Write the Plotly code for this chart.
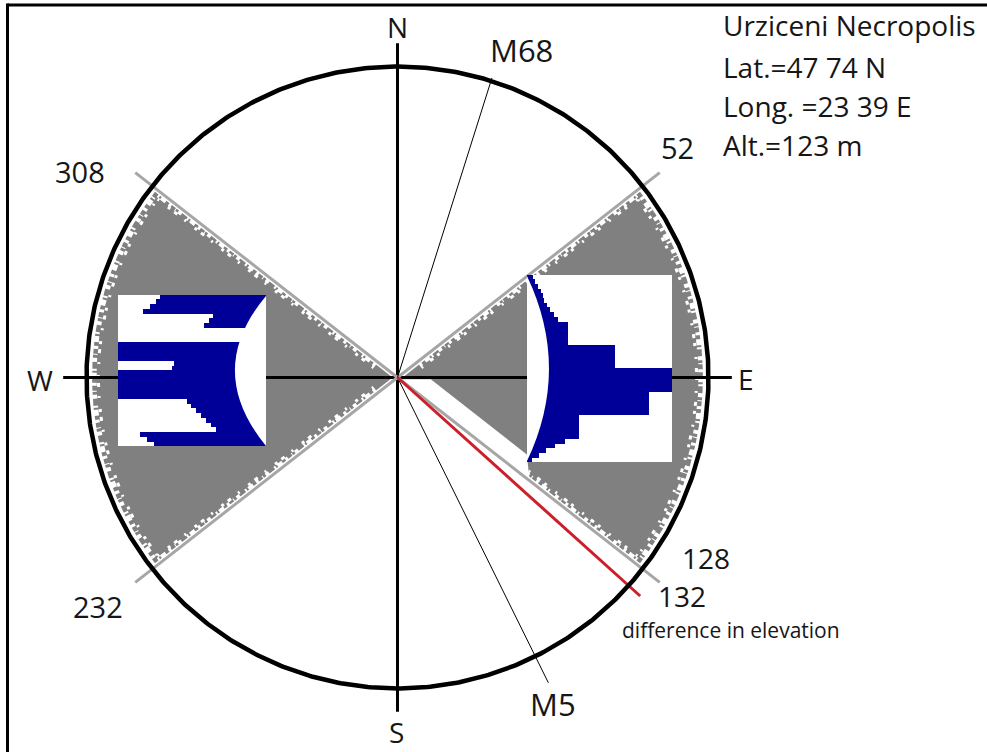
import numpy as np
import plotly.graph_objects as go

# ---------------------------------------------------------------- data
east_sector = [52, 128]        # azimuth limits of the eastern sector (deg)
west_sector = [232, 308]       # azimuth limits of the western sector (deg)
elevation_az = 132             # azimuth corrected for difference in elevation
tomb_names = ["M68", "M5"]
tomb_az = [17.5, 153.7]        # azimuths of the two reference graves
cardinal_names = ["N", "E", "S", "W"]

# orientation histograms, bar length in % of the panel width, top row first
east_hist = [4.1, 5.5, 7.6, 9.7, 11.0, 11.7, 13.8, 15.9, 18.6, 21.4,
             28.3, 28.3, 28.3, 28.3, 28.3, 60.7, 60.7, 60.7, 60.7, 60.7,
             100, 100, 100, 100, 100, 84.1, 84.1, 84.1, 84.1, 84.1,
             35.9, 35.9, 35.9, 35.9, 35.9, 26.2, 19.3, 13.1, 8.3, 3.4]
west_hist = [71.6, 74.3, 78.4, 83.1, 35.8, 38.5, 41.9, 0, 0, 0,
             100, 100, 100, 100, 62.2, 63.5, 100, 100, 100, 100,
             100, 100, 53.4, 50.7, 47.3, 43.9, 40.5, 37.2, 33.8, 85.1,
             80.4, 75.7]

site_info = ["Urziceni Necropolis", "Lat.=47 74 N", "Long. =23 39 E", "Alt.=123 m"]
elev_note = "difference in elevation"

# ---------------------------------------------------------------- page geometry
W, H = 987, 752
CX, CY, R = 397.5, 377.5, 311.0       # compass centre / radius (px)
EAST_BOX = (527, 275, 672, 462)       # histogram panels (x0, y0, x1, y1) px
WEST_BOX = (118, 295, 266, 446)
GREY, EDGE, NAVY, RED, INK = "#808080", "#a6a6a6", "#000099", "#cc1f2a", "#161616"
FONT = "Open Sans"
RIM = 0.982


def unit(az):
    a = np.radians(az)
    return np.array([np.sin(a), np.cos(a)])


def xy(px, py):
    return (px - CX) / R, (CY - py) / R


def paper(px, py):
    return px / W, 1 - py / H


def cross(p, u, q, v):
    # intersection of lines p + t*u and q + s*v
    m = np.array([[u[0], -v[0]], [u[1], -v[1]]])
    t, _ = np.linalg.solve(m, q - p)
    return p + t * u


def wedge(a0, a1, ins0, ins1, gap=None):
    """Sector polygon between azimuths a0<a1; ins* are inset widths (px)."""
    u0, u1 = unit(a0), unit(a1)
    n0, n1 = unit(a0 + 90), unit(a1 - 90)
    d0, d1 = ins0 / R, ins1 / R
    pts = []
    if gap is None:
        pts.append(cross(d0 * n0, u0, d1 * n1, u1))
    else:
        g_in, g_r, g_out = gap
        pts.append(cross(d0 * n0, u0, np.array([0.0, 0.006]), np.array([1.0, 0.0])))
    end0 = RIM * u0 + d0 * n0
    pts.append(end0)
    b0 = np.degrees(np.arctan2(*end0))
    end1 = RIM * u1 + ((d1 * R if gap is None else g_out) / R) * n1
    b1 = np.degrees(np.arctan2(*end1))
    if b1 < b0:
        b1 += 360
    for a in np.linspace(b0, b1, 120):
        pts.append(RIM * unit(a))
    pts.append(end1)
    if gap is not None:
        pts.append(g_r * u1 + (g_out / R) * n1)
        pts.append((g_r - 0.05) * u1 + (g_in / R) * n1)
        # inner edge of the strip meets the W-E line just below it
        pts.append(cross((g_in / R) * n1, u1, np.array([0.0, -0.006]), np.array([1.0, 0.0])))
        pts.append(np.array([0.006, -0.006]))
    arr = np.array(pts)
    return arr[:, 0], arr[:, 1]


fig = go.Figure()


def line(xs, ys, color, width, dash="solid"):
    fig.add_trace(go.Scatter(x=xs, y=ys, mode="lines", hoverinfo="skip",
                             line=dict(color=color, width=width, dash=dash)))


def ray(az, r0, r1):
    p, q = r0 * unit(az), r1 * unit(az)
    return [p[0], q[0]], [p[1], q[1]]


# grey sectors
for (a0, a1), gap in [(east_sector, (19, 0.53, 3)), (west_sector, None)]:
    gx, gy = wedge(a0, a1, 3, 3, gap)
    fig.add_trace(go.Scatter(x=gx, y=gy, mode="lines", fill="toself", fillcolor=GREY,
                             line=dict(width=0, color=GREY), hoverinfo="skip"))

# ragged white fringe along the sector borders and the rim
speck_a = "3px,4px,6px,2px,2px,7px,4px,3px,1px,5px"
speck_b = "2px,9px,4px,5px,3px,11px"
for a0, a1 in [east_sector, west_sector]:
    for a, nrm in [(a0, unit(a0 + 90)), (a1, unit(a1 - 90))]:
        for off, w, d in [(4, 4, speck_a), (7, 3, speck_b)]:
            p = 0.08 * unit(a) + off / R * nrm
            q = (RIM - 0.01) * unit(a) + off / R * nrm
            line([p[0], q[0]], [p[1], q[1]], "white", w, d)
    arc = np.linspace(a0 + 1.5, a1 - 1.5, 160)
    for rr, w, d in [(RIM - 0.006, 5, speck_a), (RIM - 0.02, 3, speck_b)]:
        pa = np.array([rr * unit(a) for a in arc])
        line(pa[:, 0], pa[:, 1], "white", w, d)

# cardinal cross
L = 1.075
for az in [0, 90]:
    xs, ys = ray(az, -L, L)
    line(xs, ys, "black", 3)

# white histogram panels
for x0, y0, x1, y1 in [EAST_BOX, WEST_BOX]:
    ax, ay = xy(x0, y0)
    bx, by = xy(x1, y1)
    fig.add_trace(go.Scatter(x=[ax, bx, bx, ax, ax], y=[ay, ay, by, by, ay], mode="lines",
                             fill="toself", fillcolor="white", line=dict(width=0),
                             hoverinfo="skip"))

# sector borders
for az in east_sector + west_sector:
    xs, ys = ray(az, 0, 1.07)
    line(xs, ys, EDGE, 3)

# reference graves
for az, r1 in zip(tomb_az, [1.01, 1.095]):
    xs, ys = ray(az, 0, r1)
    line(xs, ys, "black", 1)

# azimuth after elevation correction
xs, ys = ray(elevation_az, 0, 1.05)
line(xs, ys, RED, 3)

# horizon circle
t = np.linspace(0, 360, 721)
cx = np.array([unit(a) for a in t])
line(cx[:, 0], cx[:, 1], "black", 4.5)

# histogram bars in their own little axes
for i, hist in enumerate([east_hist, west_hist], start=2):
    fig.add_trace(go.Bar(x=hist, y=list(range(len(hist))), orientation="h", width=1.1,
                         xaxis=f"x{i}", yaxis=f"y{i}", hoverinfo="skip",
                         marker=dict(color=NAVY, line=dict(width=0))))

ne, nw = len(east_hist), len(west_hist)
layout_axes = dict(
    xaxis2=dict(domain=[EAST_BOX[0] / W, EAST_BOX[2] / W], range=[0, 100], anchor="y2"),
    yaxis2=dict(domain=[1 - EAST_BOX[3] / H, 1 - EAST_BOX[1] / H], range=[ne - 0.5, -0.5], anchor="x2"),
    xaxis3=dict(domain=[WEST_BOX[0] / W, WEST_BOX[2] / W], range=[100, 0], anchor="y3"),
    yaxis3=dict(domain=[1 - WEST_BOX[3] / H, 1 - WEST_BOX[1] / H], range=[nw - 0.5, -0.5], anchor="x3"),
)
for k in layout_axes:
    layout_axes[k].update(visible=False, fixedrange=True, showgrid=False, zeroline=False)

shapes = [
    # curved baselines of the two histograms
    dict(type="path", xref="x2", yref="y2", layer="above", fillcolor="white",
         line=dict(width=0), path="M 0,-0.3 Q 30.3,19.5 0,39.3 Z"),
    dict(type="path", xref="x3", yref="y3", layer="above", fillcolor="white",
         line=dict(width=0), path="M 0,-0.3 Q 42,15.4 0,31.5 Z"),
    # frame
    dict(type="line", xref="paper", yref="paper", x0=7.5 / W, x1=1.02, y0=1 - 5 / H, y1=1 - 5 / H,
         line=dict(color="black", width=3)),
    dict(type="line", xref="paper", yref="paper", x0=7.5 / W, x1=7.5 / W, y0=1 - 3.5 / H, y1=-0.02,
         line=dict(color="black", width=3)),
]

annotations = []


def label(text, px, py, size=29, anchor="center"):
    x, y = paper(px, py)
    annotations.append(dict(text=text, x=x, y=y, xref="paper", yref="paper", showarrow=False,
                            xanchor=anchor, yanchor="middle", borderpad=0,
                            font=dict(family=FONT, size=size, color=INK)))


for name, pos in zip(cardinal_names, [(397, 27), (746, 379), (396, 732), (40, 380)]):
    label(name, *pos, size=28)
label(tomb_names[0], 521, 50, size=31)
label(tomb_names[1], 553, 704, size=31)
for az, pos in zip([east_sector[0], west_sector[1], west_sector[0]],
                   [(677, 147), (80, 171), (98, 606)]):
    label(str(az), *pos)
label(str(east_sector[1]), 706, 558, size=28)
label(str(elevation_az), 682, 596, size=28)
label(elev_note, 731, 630, size=21)
for text, py in zip(site_info, [25, 67, 106, 145]):
    label(text, 722, py, size=28, anchor="left")

fig.update_layout(
    width=W, height=H, margin=dict(l=0, r=0, t=0, b=0),
    paper_bgcolor="white", plot_bgcolor="rgba(0,0,0,0)", showlegend=False,
    xaxis=dict(range=[-CX / R, (W - CX) / R], domain=[0, 1], visible=False, fixedrange=True),
    yaxis=dict(range=[-(H - CY) / R, CY / R], domain=[0, 1], visible=False, fixedrange=True),
    bargap=0, shapes=shapes, annotations=annotations, **layout_axes,
)

fig.write_html("out.html")
